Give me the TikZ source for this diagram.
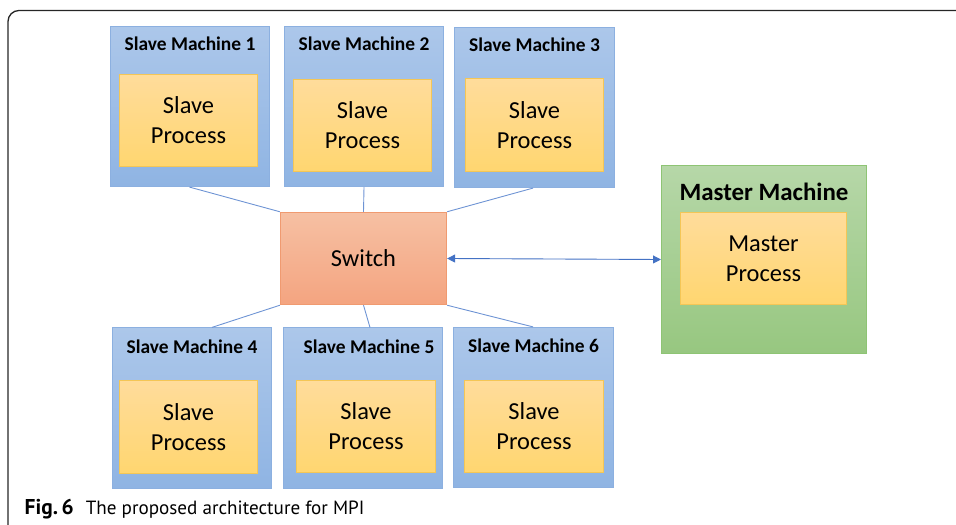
\documentclass[tikz,border=0pt]{standalone}
\usepackage{fontspec}
\setmainfont{Carlito}
\newfontfamily\capfont{PT Sans}
\usetikzlibrary{arrows.meta}

\definecolor{mtop}{RGB}{172,199,234}
\definecolor{mbot}{RGB}{143,180,227}
\definecolor{mline}{RGB}{140,176,224}
\definecolor{ptop}{RGB}{255,220,155}
\definecolor{pbot}{RGB}{255,214,112}
\definecolor{pline}{RGB}{244,198,86}
\definecolor{stop}{RGB}{246,192,163}
\definecolor{sbot}{RGB}{244,164,128}
\definecolor{sline}{RGB}{240,154,112}
\definecolor{gtop}{RGB}{182,215,168}
\definecolor{gbot}{RGB}{151,199,128}
\definecolor{gline}{RGB}{142,196,116}
\definecolor{link}{RGB}{110,148,212}
\definecolor{arrowblue}{RGB}{68,114,196}

\tikzset{
  machine/.style={draw=mline, line width=0.8pt, top color=mtop, bottom color=mbot,
    minimum width=160, minimum height=161, inner sep=0pt},
  proc/.style={draw=pline, line width=0.8pt, top color=ptop, bottom color=pbot,
    minimum width=139, minimum height=93, inner sep=0pt, align=center,
    font=\fontsize{24.5}{30}\selectfont},
  mtitle/.style={font=\bfseries\fontsize{19.5}{22}\selectfont},
  switchbox/.style={draw=sline, line width=0.8pt, top color=stop, bottom color=sbot,
    minimum width=167, minimum height=93, inner sep=0pt,
    font=\fontsize{24.5}{30}\selectfont},
  master/.style={draw=gline, line width=0.8pt, top color=gtop, bottom color=gbot,
    minimum width=206, minimum height=189, inner sep=0pt},
  link/.style={draw=link, line width=0.9pt},
  duplex/.style={draw=arrowblue, line width=0.9pt,
    {Triangle[length=8,width=8]}-{Triangle[length=8,width=8]}}
}

\begin{document}
\begin{tikzpicture}[x=1bp, y=-1bp]
\useasboundingbox (0,0) rectangle (956,525);

% outer figure frame, open towards the right and the bottom
\draw[line width=1.3pt, black!85, rounded corners=11]
  (8,530) -- (8,10.5) -- (962,10.5);

% slave machines, upper row
\node[machine] (sm1) at (190,106.5) {};
\node[proc] (sp1) at (188.5,120.5) {Slave\\Process};
\node[mtitle] (t1) at (190,44) {Slave Machine 1};

\node[machine] (sm2) at (364,106.5) {};
\node[proc] (sp2) at (362.5,125.5) {Slave\\Process};
\node[mtitle] (t2) at (364,44) {Slave Machine 2};

\node[machine] (sm3) at (534.5,107.5) {};
\node[proc] (sp3) at (534.5,125) {Slave\\Process};
\node[mtitle] (t3) at (534.5,45) {Slave Machine 3};

% slave machines, lower row
\node[machine] (sm4) at (192,408) {};
\node[proc] (sp4) at (188.5,427) {Slave\\Process};
\node[mtitle] (t4) at (192,347) {Slave Machine 4};

\node[machine] (sm5) at (363,408) {};
\node[proc] (sp5) at (366,426.5) {Slave\\Process};
\node[mtitle] (t5) at (369,347) {Slave Machine 5};

\node[machine] (sm6) at (533.5,407.5) {};
\node[proc] (sp6) at (534,426.5) {Slave\\Process};
\node[mtitle] (t6) at (533.5,346) {Slave Machine 6};

% switch
\node[switchbox] (sw) at (363.5,258.5) {Switch};

% master machine
\node[master] (mm) at (764,259.5) {};
\node[proc, minimum width=167] (mp) at (763.5,258.5) {Master\\Process};
\node[font=\bfseries\fontsize{25}{28}\selectfont] (tm) at (764,192) {Master Machine};

% links between machines and the switch
\coordinate (c1) at ([xshift=-0.5]sm1.south);
\draw[link] (c1) -- (sw.north west);
\draw[link] (sm2.south) -- (sw.north);
\draw[link] ([xshift=-1.5]sm3.south) -- (sw.north east);
\draw[link] (sw.south west) -- ([xshift=20]sm4.north);
\draw[link] (sw.south) -- ([xshift=7]sm5.north);
\draw[link] (sw.south east) -- ([xshift=-0.5]sm6.north);

% switch <-> master
\draw[duplex] (sw.east) -- (mm.west);

% caption
\node[anchor=base west, inner sep=0pt, font=\capfont\fontsize{19.2}{22}\selectfont] (cap) at (24.5,514)
  {{\bfseries\fontsize{21.5}{22}\selectfont Fig.\,6}\hspace{12bp}The proposed architecture for MPI};
\end{tikzpicture}
\end{document}
